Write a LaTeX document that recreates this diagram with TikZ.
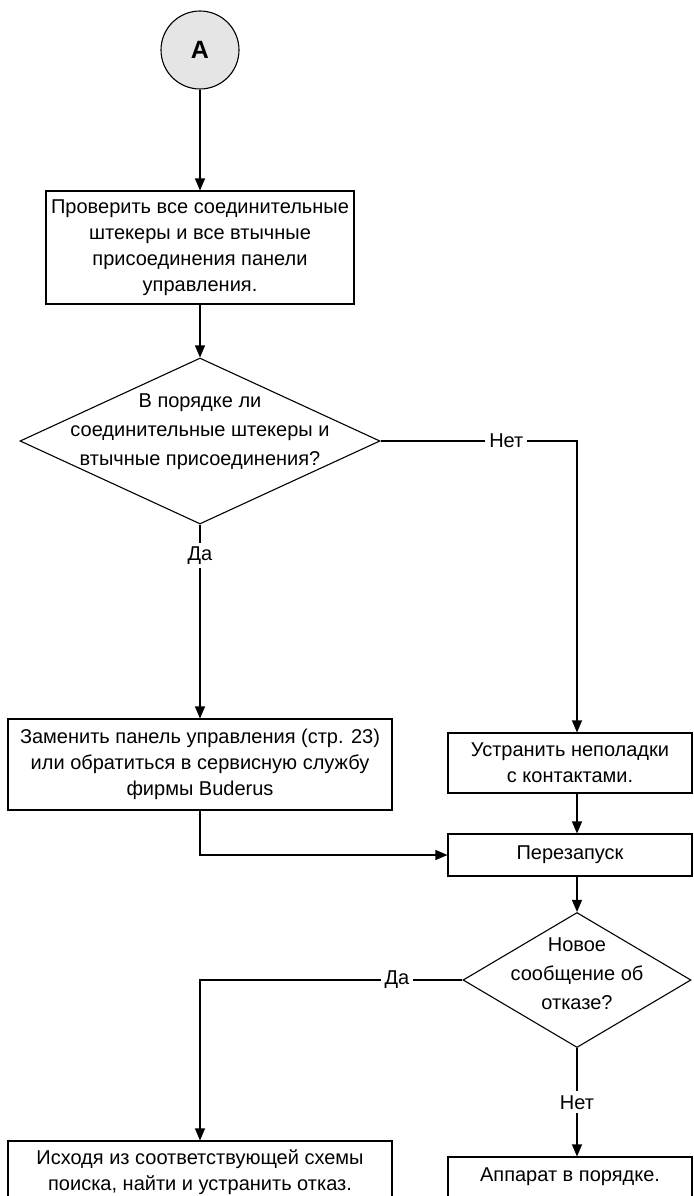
\documentclass[tikz,border=0pt]{standalone}
\usepackage{fontspec}
\setmainfont{Liberation Sans}
\usetikzlibrary{shapes.geometric, arrows.meta, positioning}

\renewcommand{\arraystretch}{1.12}
\newcommand{\qlines}[2][0pt]{\smash{\raisebox{#1}{\begin{tabular}{@{}c@{}}#2\end{tabular}}}}

\tikzset{
  every node/.style = {font=\fontsize{20}{26}\selectfont},
  stepbox/.style = {draw, rectangle, align=center, inner sep=2pt, line width=1.1pt},
  decision/.style = {draw, diamond, inner sep=0pt, line width=1.1pt},
  connector/.style = {draw, circle, fill=gray!20, line width=1.1pt, minimum size=78pt,
                      font=\fontsize{25}{30}\selectfont\bfseries},
  answer/.style = {fill=white, inner sep=4pt},
  flow/.style = {-{Triangle[length=12pt,width=10pt]}, line width=1.1pt},
}

\begin{document}
\begin{tikzpicture} [x=1pt, y=-1pt, on grid]
        \clip (0,0) rectangle (693,1196);

        \node (A) [connector] at (200,50) {A};
        \node (chk) [stepbox, minimum width=308pt, minimum height=113pt, below = 197.5pt of A]
              {Проверить все соединительные\\штекеры и все втычные\\присоединения панели\\управления.};
        \node (ok1) [decision, aspect=2.17, minimum width=360pt, minimum height=166pt, below = 193.5pt of chk]
              {\qlines[5pt]{В порядке ли\\соединительные штекеры и\\втычные присоединения?}};
        \node (replace) [stepbox, minimum width=384pt, minimum height=91pt, below = 323.5pt of ok1]
              {Заменить панель управления (стр. 23)\\или обратиться в сервисную службу\\фирмы Buderus};
        \node (fix) [stepbox, minimum width=244pt, minimum height=60pt, below right = 322pt and 370pt of ok1]
              {Устранить неполадки\\с контактами.};
        \node (restart) [stepbox, minimum width=244pt, minimum height=42pt, below = 92pt of fix] {Перезапуск};
        \node (ok2) [decision, aspect=1.69, minimum width=228pt, minimum height=135pt, below right = 125pt and 7pt of restart]
              {\qlines{Новое\\сообщение об\\отказе?}};
        \node (search) [stepbox, minimum width=384pt, minimum height=62pt, below = 407.5pt of replace]
              {Исходя из соответствующей схемы\\поиска, найти и устранить отказ.};
        \node (done) [stepbox, minimum width=244pt, minimum height=40pt, below left = 197pt and 7pt of ok2]
              {Аппарат в порядке.};

        \path [flow] (A) edge (chk);
        \path [flow] (chk) edge (ok1);
        \path [flow] (ok1.south) edge node [answer, pos=0.16] {Да} (replace.north);
        \draw [flow] (ok1.east) -- node [answer, pos=0.64] {Нет} (ok1.east -| ok2) -- (fix.north -| ok2);
        \draw [flow] (fix.south -| ok2) -- (restart.north -| ok2);
        \draw [flow] (replace.south) |- (restart.west);
        \draw [flow] (restart.south -| ok2) -- (ok2.north);
        \draw [flow] (ok2.west) -- node [answer, pos=0.25] {Да} (ok2.west -| search) -- (search.north);
        \draw [flow] (ok2.south) -- node [answer] {Нет} (done.north -| ok2);
    \end{tikzpicture}
\end{document}
